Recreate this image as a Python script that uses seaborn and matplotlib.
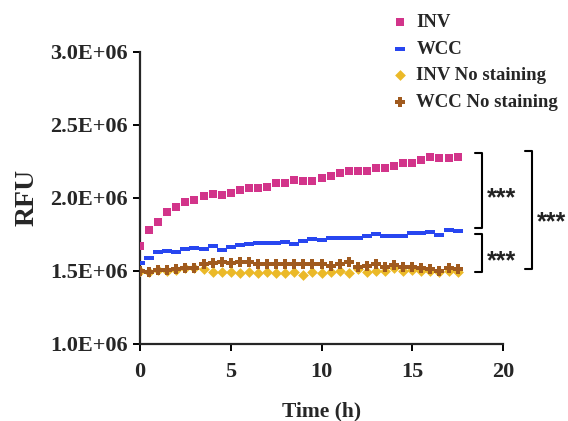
import numpy as np
import pandas as pd
import matplotlib
matplotlib.use("Agg")
import matplotlib.pyplot as plt
from matplotlib.ticker import FuncFormatter
import seaborn as sns

sns.set_style("ticks")
plt.rcParams['font.family'] = ['Liberation Serif', 'DejaVu Serif']
plt.rcParams['font.weight'] = 'bold'

# time points (h)
time_h = [0, 0.5, 1, 1.5, 2, 2.5, 3, 3.5, 4, 4.5, 5, 5.5, 6, 6.5, 7, 7.5, 8, 8.5,
          9, 9.5, 10, 10.5, 11, 11.5, 12, 12.5, 13, 13.5, 14, 14.5, 15, 15.5, 16, 16.5, 17, 17.5]

# RFU in units of 1E+06
inv = [1.670, 1.780, 1.832, 1.905, 1.937, 1.973, 1.985, 2.012, 2.026,
       2.019, 2.035, 2.051, 2.065, 2.065, 2.076, 2.103, 2.103, 2.120,
       2.117, 2.117, 2.133, 2.149, 2.172, 2.185, 2.185, 2.185, 2.206,
       2.206, 2.220, 2.240, 2.240, 2.258, 2.281, 2.274, 2.274, 2.281]
wcc = [1.556, 1.586, 1.627, 1.636, 1.627, 1.650, 1.659, 1.652, 1.670,
       1.643, 1.666, 1.677, 1.684, 1.689, 1.689, 1.689, 1.695, 1.686,
       1.705, 1.718, 1.711, 1.727, 1.727, 1.727, 1.727, 1.741, 1.750,
       1.741, 1.741, 1.741, 1.757, 1.757, 1.764, 1.746, 1.780, 1.773]
inv_ns = [1.499, 1.495, 1.506, 1.499, 1.506, 1.518, 1.518, 1.513, 1.495,
          1.490, 1.495, 1.488, 1.495, 1.488, 1.490, 1.488, 1.483, 1.495,
          1.472, 1.495, 1.488, 1.495, 1.499, 1.488, 1.513, 1.495, 1.502,
          1.499, 1.518, 1.499, 1.506, 1.499, 1.499, 1.495, 1.499, 1.495]
wcc_ns = [1.499, 1.490, 1.506, 1.506, 1.513, 1.518, 1.522, 1.547, 1.552,
          1.563, 1.552, 1.559, 1.563, 1.550, 1.550, 1.547, 1.547, 1.547,
          1.547, 1.547, 1.547, 1.536, 1.547, 1.559, 1.529, 1.536, 1.547,
          1.529, 1.540, 1.525, 1.525, 1.518, 1.513, 1.502, 1.518, 1.513]

labels = ['INV', 'WCC', 'INV No staining', 'WCC No staining']
colors = ['#D2348A', '#2846F0', '#EBB928', '#A05A1E']
dash = [(-1, -0.4), (1, -0.4), (1, 0.4), (-1, 0.4), (-1, -0.4)]
markers = ['s', dash, 'D', 'P']
sizes = [26, 50, 30, 60]

fig = plt.figure(figsize=(5.68, 4.21), dpi=100)
ax = fig.add_axes([0.2465, 0.1829, 0.8856 - 0.2465, 0.8772 - 0.1829])

# draw no-staining first so coloured series sit on top
order = [3, 2, 1, 0]
series = [inv, wcc, inv_ns, wcc_ns]
for i in order:
    df = pd.DataFrame({'Time': time_h, 'RFU': np.array(series[i]) * 1e6})
    sns.scatterplot(data=df, x='Time', y='RFU', ax=ax, color=colors[i],
                    marker=markers[i], s=sizes[i], linewidth=0, label=labels[i],
                    zorder=3 + i)

ax.set_xlim(0, 20)
ax.set_ylim(1.0e6, 3.0e6)
ax.set_xticks([0, 5, 10, 15, 20])
ax.set_yticks([1.0e6, 1.5e6, 2.0e6, 2.5e6, 3.0e6])
ax.yaxis.set_major_formatter(FuncFormatter(lambda v, p: f"{v:.1E}"))
ax.tick_params(labelsize=16, width=1.4, length=5, color='black')
ax.tick_params(axis='x', pad=8)
for lab in ax.get_xticklabels() + ax.get_yticklabels():
    lab.set_fontweight('bold')
for s in ['left', 'bottom']:
    ax.spines[s].set_linewidth(1.6)
sns.despine(ax=ax)
ax.set_xlabel('Time (h)', fontsize=15.5, fontweight='bold', labelpad=14)
ax.set_ylabel('RFU', fontsize=20, fontweight='bold', labelpad=8)

# legend
handles, labs = ax.get_legend_handles_labels()
hmap = dict(zip(labs, handles))
ax.get_legend().remove()
fig.legend([hmap[l] for l in labels], labels, loc='upper left',
           bbox_to_anchor=(392 / 568, 1 - 14 / 421), frameon=False,
           prop={'size': 13.5, 'weight': 'bold'}, handlelength=0.8,
           handletextpad=0.5, labelspacing=0.5, borderpad=0, borderaxespad=0)

# significance brackets
def bracket(x, x_tick, y0, y1):
    ax.plot([x_tick, x, x, x_tick], [y1 * 1e6, y1 * 1e6, y0 * 1e6, y0 * 1e6],
            color='black', lw=1.5, clip_on=False)

bracket(18.83, 18.46, 1.791, 2.304)
bracket(18.83, 18.46, 1.495, 1.752)
bracket(21.58, 21.2, 1.511, 2.322)
star = dict(fontsize=18, fontweight='bold', va='center', ha='left',
            color='#222222', family=['Liberation Sans', 'DejaVu Sans'])
ax.text(19.1, 2.0e6, '***', **star)
ax.text(19.1, 1.565e6, '***', **star)
ax.text(21.85, 1.83e6, '***', **star)

fig.savefig('out.png', dpi=100, facecolor='white')
